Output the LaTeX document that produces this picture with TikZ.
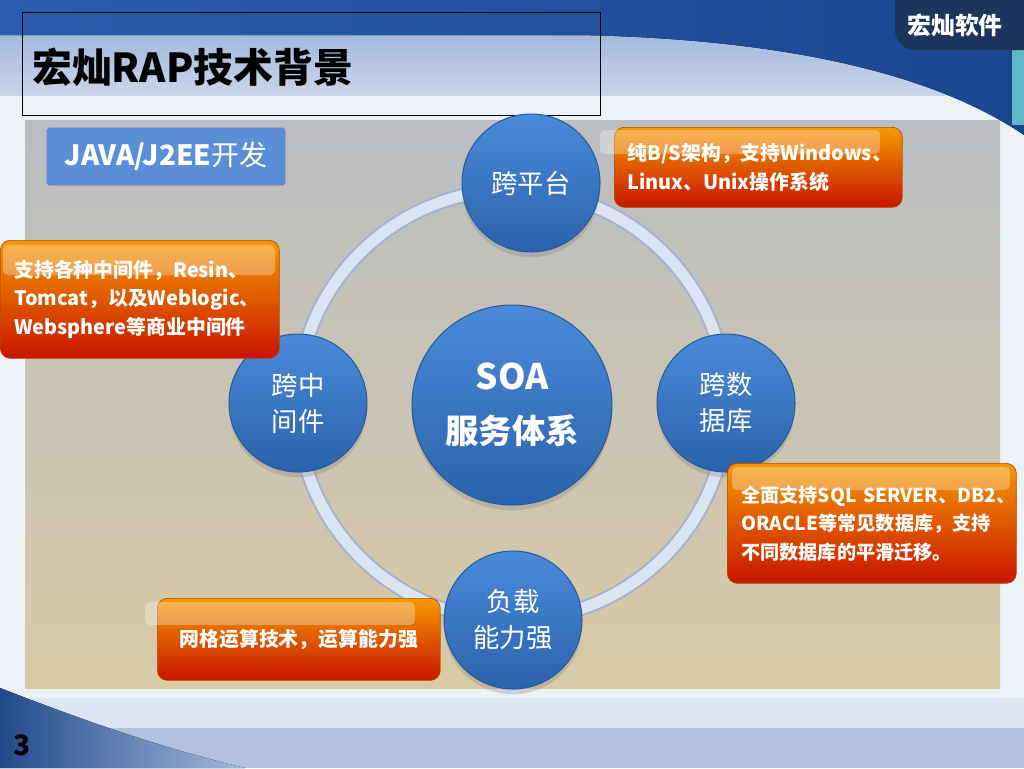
\documentclass[tikz,border=0pt]{standalone}
\usepackage{fontspec}
\setmainfont{Noto Sans CJK SC}
\usetikzlibrary{shapes,positioning,shadows}
\definecolor{topblue}{HTML}{2A5DAE}
\definecolor{topblue2}{HTML}{1A4690}
\definecolor{bandblue}{HTML}{A4B9DC}
\definecolor{bandblue2}{HTML}{C8D5EB}
\definecolor{pagebg}{HTML}{EDF2F9}
\definecolor{lowband}{HTML}{DDE5F1}
\definecolor{footblue}{HTML}{B1C2E1}
\definecolor{sidecyan}{HTML}{5FB8C8}
\definecolor{tabnavy}{HTML}{1B355C}
\definecolor{panelgray}{HTML}{BABDC1}
\definecolor{panelmid}{HTML}{CDCCC4}
\definecolor{panelbeige}{HTML}{D8CAA5}
\definecolor{javablue}{HTML}{5A8FD7}
\definecolor{javarim}{HTML}{7A78C0}
\definecolor{balltop}{HTML}{4A8AD9}
\definecolor{ballbot}{HTML}{2C62AC}
\definecolor{ballrim}{HTML}{2A5A9C}
\definecolor{ringin}{HTML}{DCE4F2}
\definecolor{ringout}{HTML}{A3B3CF}
\definecolor{tiptop}{HTML}{F59A00}
\definecolor{tipbot}{HTML}{C81400}
\definecolor{tipline}{HTML}{B84A00}
\tikzset{ball/.style={circle,draw=ballrim,line width=0.6pt,top color=balltop,bottom color=ballbot,text=white,minimum size=2.76cm,inner sep=0pt,align=center,font=\fontsize{15}{20.5}\selectfont,drop shadow={opacity=0.3,shadow xshift=0pt,shadow yshift=-3pt}}}
\tikzset{tip/.style={rectangle,rounded corners=0.2cm,draw=tipline,top color=tiptop,bottom color=tipbot,text=white,font=\bfseries\fontsize{11.3}{16.3}\selectfont,align=left,anchor=north west,inner ysep=0pt}}
\tikzset{gloss/.style={fill=white,opacity=0.3,rounded corners=0.1cm}}

\begin{document}
\begin{tikzpicture}[x=0.02cm,y=-0.02cm]
    \useasboundingbox (0,0) rectangle (1024,768);
    % background
    \fill[pagebg] (0,0) rectangle (1024,768);
    \shade[top color=bandblue,bottom color=bandblue2] (0,35) rectangle (1024,95);
    \fill[left color=topblue,right color=topblue2] (0,0) -- (1024,0) -- (1024,135) .. controls (950,85) and (820,40) .. (580,35) -- (0,35) -- cycle;
    \fill[sidecyan] (1012,45) rectangle (1024,125);
    \fill[tabnavy,rounded corners=0.4cm] (895,-20) -- (1044,-20) -- (1044,50) -- (895,50) -- cycle;
    \node[text=white,font=\bfseries\fontsize{13.6}{16}\selectfont] (brand) at (955,25) {宏灿软件};
    \draw[black,line width=0.5pt] (22,12) rectangle (600,115);
    \node[anchor=west,font=\bfseries\fontsize{22.7}{27}\selectfont] (title) at (26,67) {宏灿RAP技术背景};

    \fill[lowband] (0,698) rectangle (1024,728);
    \fill[footblue] (0,728) rectangle (1024,768);
    \fill[left color=topblue!80!black,right color=bandblue] (0,688) .. controls (70,715) and (150,745) .. (245,768) -- (0,768) -- cycle;
    \node[font=\bfseries\fontsize{16}{18}\selectfont] (page) at (22,745) {3};

    % panel
    \shade[top color=panelgray,middle color=panelmid,bottom color=panelbeige] (25,120) rectangle (1000,688);
    \node[rectangle,rounded corners=1pt,draw=javarim,fill=javablue,text=white,minimum width=4.76cm,minimum height=1.14cm,font=\fontsize{15.9}{18}\selectfont] (java) at (166,156.5) {\textbf{JAVA/J2EE}开发};

    % ring and balls
    \coordinate (hub) at (512,405);
    \draw[ringout,line width=0.3cm] (hub) circle [radius=215];
    \draw[ringin,line width=0.22cm] (hub) circle [radius=215];
    \node[ball,minimum size=4cm,font=\bfseries\fontsize{19}{31}\selectfont] (soa) at (hub) {{\fontsize{20}{31}\selectfont SOA}\\服务体系};
    \node[ball] (kpt) at (531,183) {跨平台};
    \node[ball] (kzj) at (298,403) {跨中\\间件};
    \node[ball] (ksj) at (726,403) {跨数\\据库};
    \node[ball] (fz) at (513,620) {负载\\能力强};

    % callouts
    \node[tip,inner xsep=0.28cm,text width=5.02cm,minimum height=2.36cm] (tzj) at (0,240) {支持各种中间件，Resin、\\Tomcat，以及Weblogic、\\Websphere等商业中间件};
    \fill[gloss] (3,245) rectangle (275,275);
    \node[tip,inner xsep=0.28cm,text width=5.22cm,minimum height=2.4cm,font=\bfseries\fontsize{10.9}{16.3}\selectfont] (tsj) at (727,463) {全面支持SQL~SERVER、DB2、\\ORACLE等常见数据库，支持\\不同数据库的平滑迁移。};
    \fill[gloss] (732,467) rectangle (1010,490);
    \node[tip,inner xsep=0.26cm,text width=5.24cm,minimum height=1.6cm] (tpt) at (614,127) {纯B/S架构，支持Windows、\\Linux、Unix操作系统};
    \fill[gloss] (600,130) rectangle (880,154);
    \node[tip,align=center,inner xsep=0pt,text width=5.66cm,minimum height=1.64cm] (tfz) at (157,598) {网格运算技术，运算能力强};
    \fill[gloss] (145,602) rectangle (415,625);
\end{tikzpicture}
\end{document}
